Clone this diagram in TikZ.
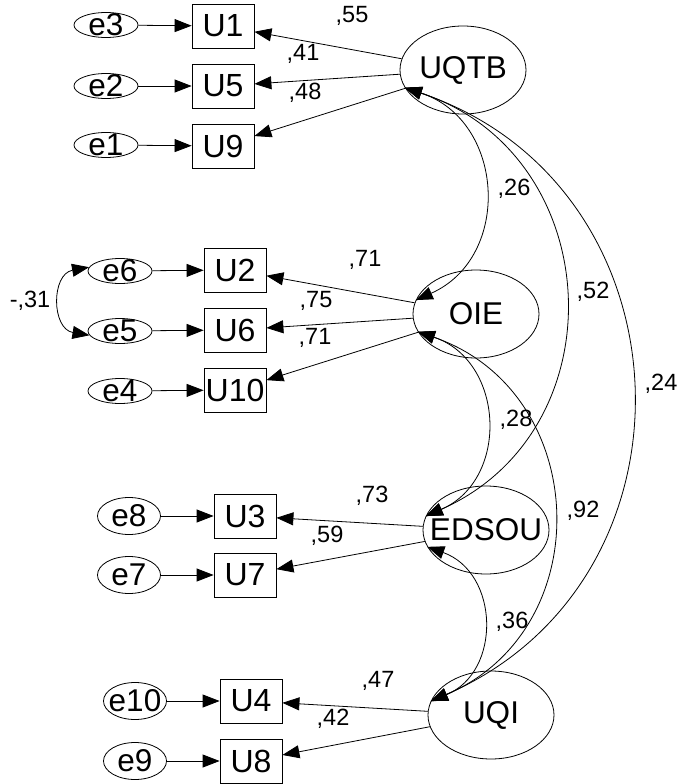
\documentclass[tikz,border=0pt]{standalone}
\usepackage{fontspec}
\setmainfont{Liberation Sans}
\usetikzlibrary{arrows.meta,shapes.geometric}
\begin{document}
\begin{tikzpicture}[x=1pt,y=-1pt,
  line width=0.8pt,
  >={Triangle[length=17pt,width=13pt]},
  lattxt/.style={font=\fontsize{31.5}{31.5}\selectfont,inner sep=0pt},
  errtxt/.style={font=\fontsize{31.5}{31.5}\selectfont,inner sep=0pt},
  lat/.style={ellipse,draw,minimum width=126pt,minimum height=88pt,inner sep=0pt,label={[lattxt]center:#1}},
  err/.style={ellipse,draw,minimum width=64pt,minimum height=25pt,inner sep=0pt,label={[errtxt]center:#1}},
  errtall/.style={ellipse,draw,minimum width=63pt,minimum height=37pt,inner sep=0pt,label={[errtxt]center:#1}},
  obs/.style={rectangle,draw,minimum width=62pt,minimum height=44pt,inner sep=0pt,font=\fontsize{32}{32}\selectfont},
  coef/.style={font=\fontsize{23.5}{23.5}\selectfont,inner sep=0pt},
  cov/.style={bend left=69,looseness=1.27},
]
\useasboundingbox (0,0) rectangle (679,784);

% latent variables
\node[lat=UQTB] (UQTB) at (463,70) {};
\node[lat=OIE] (OIE) at (476,314) {};
\node[lat=EDSOU] (EDSOU) at (486,530) {};
\node[lat=UQI] (UQI) at (491,715) {};

% observed
\node[obs] (U1) at (223,26) {U1};
\node[obs] (U5) at (223,86) {U5};
\node[obs] (U9) at (223,146) {U9};
\node[obs] (U2) at (235,270) {U2};
\node[obs] (U6) at (235,330) {U6};
\node[obs] (U10) at (235,390) {U10};
\node[obs] (U3) at (245,516) {U3};
\node[obs] (U7) at (245,575) {U7};
\node[obs] (U4) at (251,701) {U4};
\node[obs] (U8) at (251,761) {U8};

% errors
\node[err=e3] (e3) at (106,25) {};
\node[err=e2] (e2) at (106,86) {};
\node[err=e1] (e1) at (106,145) {};
\node[err=e6] (e6) at (120,271) {};
\node[err=e5] (e5) at (120,331) {};
\node[err=e4] (e4) at (120,391) {};
\node[errtall=e8] (e8) at (129,516) {};
\node[errtall=e7] (e7) at (129,575) {};
\node[errtall=e10] (e10) at (135,701) {};
\node[errtall=e9] (e9) at (135,761) {};

% error arrows
\draw[->] (e3) -- (U1);
\draw[->] (e2) -- (U5);
\draw[->] (e1) -- (U9);
\draw[->] (e6) -- (U2);
\draw[->] (e5) -- (U6);
\draw[->] (e4) -- (U10);
\draw[->] (e8) -- (U3);
\draw[->] (e7) -- (U7);
\draw[->] (e10) -- (U4);
\draw[->] (e9) -- (U8);

% loadings
\draw[->] (UQTB) -- (U1);
\draw[->] (UQTB) -- (U5);
\draw[->] (UQTB) -- (U9);
\draw[->] (OIE) -- (U2);
\draw[->] (OIE) -- (U6);
\draw[->] (OIE) -- (U10);
\draw[->] (EDSOU) -- (U3);
\draw[->] (EDSOU) -- (U7);
\draw[->] (UQI) -- (U4);
\draw[->] (UQI) -- (U8);

% covariances
\draw[<->] (UQTB.197) to[cov] (OIE.167);
\draw[<->] (UQTB.197) to[cov] (EDSOU.167);
\draw[<->] (UQTB.197) to[cov] (UQI.167);
\draw[<->] (OIE.197) to[cov] (EDSOU.167);
\draw[<->] (OIE.197) to[cov] (UQI.167);
\draw[<->] (EDSOU.196) to[cov] (UQI.167);
\draw[<->] (e6.173) to[bend right=80,looseness=1.45] (e5.188);

% coefficients
\node[coef] (c55) at (352,16) {,55};
\node[coef] (c41) at (303,54) {,41};
\node[coef] (c48) at (305,93) {,48};
\node[coef] (c26) at (514,189) {,26};
\node[coef] (c71a) at (365,260) {,71};
\node[coef] (c75) at (316,301) {,75};
\node[coef] (c71b) at (315,338) {,71};
\node[coef] (c52) at (593,292) {,52};
\node[coef] (c24) at (661,384) {,24};
\node[coef] (c28) at (516,420) {,28};
\node[coef] (c73) at (372,496) {,73};
\node[coef] (c59) at (327,536) {,59};
\node[coef] (c92) at (583,511) {,92};
\node[coef] (c36) at (512,622) {,36};
\node[coef] (c47) at (378,681) {,47};
\node[coef] (c42) at (333,719) {,42};
\node[coef] (c31) at (30,301) {-,31};
\end{tikzpicture}
\end{document}
